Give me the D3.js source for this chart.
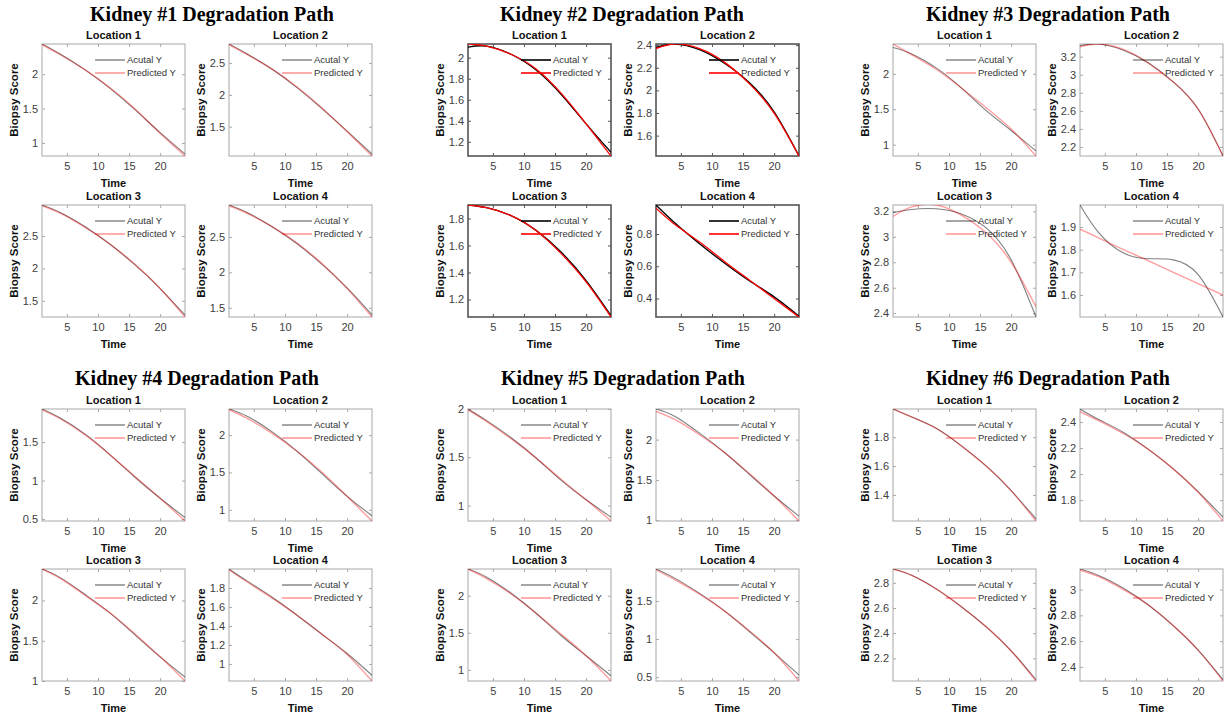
<!DOCTYPE html>
<html>
<head>
<meta charset="utf-8">
<script src="https://cdn.jsdelivr.net/npm/d3@7"></script>
<style>
  body { margin: 0; background: #fff; }
  svg { display: block; }
</style>
</head>
<body>
<svg id="chart" width="1224" height="717"></svg>
<script>
// ---- data ----
const times = [1, 4, 8, 12, 16, 20, 24]
const kidneyNames = ["Kidney #1 Degradation Path", "Kidney #2 Degradation Path", "Kidney #3 Degradation Path",
                     "Kidney #4 Degradation Path", "Kidney #5 Degradation Path", "Kidney #6 Degradation Path"]
const locationNames = ["Location 1", "Location 2", "Location 3", "Location 4"]
const legendLabels = ["Acutal Y", "Predicted Y"]
const xTicks = [5, 10, 15, 20]

// one row per location, values at `times`
const actualK1 = [
  [2.44, 2.29, 2.06, 1.79, 1.48, 1.15, 0.84],
  [2.80, 2.64, 2.40, 2.11, 1.78, 1.43, 1.07],
  [2.98, 2.86, 2.64, 2.37, 2.05, 1.69, 1.28],
  [2.95, 2.84, 2.64, 2.40, 2.11, 1.78, 1.40]
]
const predictedK1 = [
  [2.43, 2.28, 2.06, 1.80, 1.49, 1.14, 0.81],
  [2.79, 2.63, 2.40, 2.12, 1.79, 1.42, 1.04],
  [2.97, 2.85, 2.63, 2.37, 2.06, 1.69, 1.25],
  [2.94, 2.83, 2.64, 2.41, 2.12, 1.77, 1.37]
]
const actualK2 = [
  [2.10, 2.11, 2.03, 1.88, 1.65, 1.37, 1.10],
  [2.38, 2.41, 2.36, 2.24, 2.07, 1.81, 1.42],
  [1.90, 1.88, 1.82, 1.71, 1.55, 1.34, 1.08],
  [0.98, 0.87, 0.74, 0.62, 0.51, 0.41, 0.29]
]
const predictedK2 = [
  [2.13, 2.11, 2.03, 1.89, 1.66, 1.37, 1.065],
  [2.37, 2.41, 2.37, 2.25, 2.06, 1.80, 1.42],
  [1.90, 1.88, 1.82, 1.71, 1.54, 1.33, 1.07],
  [0.96, 0.86, 0.75, 0.63, 0.515, 0.40, 0.285]
]
const actualK3 = [
  [2.37, 2.28, 2.08, 1.80, 1.48, 1.20, 0.91],
  [3.32, 3.34, 3.27, 3.13, 2.92, 2.62, 2.10],
  [3.19, 3.215, 3.22, 3.18, 3.07, 2.82, 2.37],
  [1.997, 1.875, 1.785, 1.76, 1.755, 1.69, 1.503]
]
const predictedK3 = [
  [2.42, 2.27, 2.06, 1.80, 1.52, 1.22, 0.84],
  [3.31, 3.34, 3.28, 3.13, 2.92, 2.62, 2.10],
  [3.16, 3.235, 3.25, 3.17, 3.03, 2.80, 2.45],
  [1.89, 1.852, 1.80, 1.751, 1.70, 1.65, 1.60]
]
const actualK4 = [
  [1.93, 1.81, 1.60, 1.33, 1.04, 0.77, 0.52],
  [2.35, 2.25, 2.04, 1.78, 1.48, 1.18, 0.92],
  [2.39, 2.28, 2.07, 1.84, 1.57, 1.30, 1.05],
  [2.00, 1.87, 1.70, 1.51, 1.31, 1.11, 0.88]
]
const predictedK4 = [
  [1.92, 1.80, 1.59, 1.33, 1.05, 0.77, 0.475],
  [2.34, 2.22, 2.02, 1.78, 1.50, 1.18, 0.85],
  [2.39, 2.27, 2.06, 1.84, 1.58, 1.30, 1.00],
  [1.99, 1.86, 1.69, 1.51, 1.31, 1.10, 0.82]
]
const actualK5 = [
  [2.00, 1.88, 1.70, 1.49, 1.26, 1.06, 0.88],
  [2.38, 2.29, 2.08, 1.84, 1.57, 1.30, 1.05],
  [2.36, 2.25, 2.03, 1.76, 1.46, 1.19, 0.92],
  [1.92, 1.80, 1.60, 1.37, 1.10, 0.82, 0.53]
]
const predictedK5 = [
  [1.99, 1.87, 1.69, 1.49, 1.27, 1.06, 0.84],
  [2.35, 2.25, 2.06, 1.84, 1.58, 1.30, 0.99],
  [2.36, 2.23, 2.02, 1.76, 1.48, 1.19, 0.85],
  [1.91, 1.78, 1.59, 1.37, 1.11, 0.82, 0.45]
]
const actualK6 = [
  [1.995, 1.94, 1.86, 1.74, 1.60, 1.43, 1.235],
  [2.50, 2.42, 2.32, 2.19, 2.04, 1.865, 1.67],
  [2.91, 2.86, 2.75, 2.61, 2.45, 2.26, 2.03],
  [3.16, 3.11, 3.01, 2.88, 2.72, 2.53, 2.30]
]
const predictedK6 = [
  [1.995, 1.94, 1.86, 1.74, 1.60, 1.43, 1.22],
  [2.48, 2.41, 2.31, 2.19, 2.04, 1.86, 1.64],
  [2.91, 2.86, 2.75, 2.61, 2.45, 2.26, 2.02],
  [3.15, 3.10, 3.00, 2.88, 2.72, 2.53, 2.29]
]

// y tick labels per location
const yTicksK1 = [[1, 1.5, 2], [1.5, 2, 2.5], [1.5, 2, 2.5], [1.5, 2, 2.5]]
const yTicksK2 = [[1.2, 1.4, 1.6, 1.8, 2], [1.6, 1.8, 2, 2.2, 2.4], [1.2, 1.4, 1.6, 1.8], [0.4, 0.6, 0.8]]
const yTicksK3 = [[1, 1.5, 2], [2.2, 2.4, 2.6, 2.8, 3, 3.2], [2.4, 2.6, 2.8, 3, 3.2], [1.6, 1.7, 1.8, 1.9]]
const yTicksK4 = [[0.5, 1, 1.5], [1, 1.5, 2], [1, 1.5, 2], [1, 1.2, 1.4, 1.6, 1.8]]
const yTicksK5 = [[1, 1.5, 2], [1, 1.5, 2], [1, 1.5, 2], [0.5, 1, 1.5]]
const yTicksK6 = [[1.4, 1.6, 1.8], [1.8, 2, 2.2, 2.4], [2.2, 2.4, 2.6, 2.8], [2.4, 2.6, 2.8, 3]]

const actualAll = [actualK1, actualK2, actualK3, actualK4, actualK5, actualK6]
const predictedAll = [predictedK1, predictedK2, predictedK3, predictedK4, predictedK5, predictedK6]
const yTicksAll = [yTicksK1, yTicksK2, yTicksK3, yTicksK4, yTicksK5, yTicksK6]

// ---- layout ----
const W = 143, H = 112
const colX = [[42, 229], [468, 656], [893, 1080]]
const rowY = [[44, 205], [409, 569]]
const titleX = [212, 622, 1048, 197, 623, 1048]
const titleY = [21, 385]

const svg = d3.select("#chart")
const sans = "Arial, 'Liberation Sans', sans-serif"

// plain style for most kidneys, kidney #2 was drawn with heavier lines
const lightStyle = {
  box: "#a8a8a8", boxW: 1,
  act: { stroke: "#000", op: 0.5, w: 1.1 },
  pred: { stroke: "#ff0000", op: 0.38, w: 1.4 }
}
const darkStyle = {
  box: "#555", boxW: 1.6,
  act: { stroke: "#000", op: 1, w: 1.3 },
  pred: { stroke: "#ff0000", op: 1, w: 1.3 }
}

kidneyNames.forEach((name, k) => {
  const col = k % 3, half = Math.floor(k / 3)
  svg.append("text")
    .attr("x", titleX[k]).attr("y", titleY[half])
    .attr("text-anchor", "middle")
    .style("font-family", "'Times New Roman', 'Liberation Serif', serif")
    .style("font-weight", "bold").style("font-size", "20px")
    .text(name)

  locationNames.forEach((loc, l) => {
    const x0 = colX[col][l % 2]
    const y0 = rowY[half][Math.floor(l / 2)]
    drawPanel(x0, y0, actualAll[k][l], predictedAll[k][l], yTicksAll[k][l], loc, k == 1 ? darkStyle : lightStyle, "k" + k + "l" + l)
  })
})

function drawPanel(x0, y0, act, pred, yTicks, loc, st, id) {
  const g = svg.append("g")
  const x = d3.scaleLinear().domain([1, 24]).range([x0, x0 + W])
  const y = d3.scaleLinear().domain(d3.extent(act.concat(pred))).range([y0 + H, y0])

  g.append("clipPath").attr("id", "clip-" + id)
    .append("rect").attr("x", x0).attr("y", y0).attr("width", W).attr("height", H)

  // axes (inward ticks, mirrored on top/right)
  g.append("g").attr("transform", `translate(0,${y0 + H})`)
    .call(d3.axisBottom(x).tickValues(xTicks).tickSizeInner(-3).tickSizeOuter(0).tickPadding(6))
  g.append("g").attr("transform", `translate(${x0},0)`)
    .call(d3.axisLeft(y).tickValues(yTicks).tickFormat(d => d).tickSizeInner(-3).tickSizeOuter(0).tickPadding(4))
  g.append("g").attr("transform", `translate(0,${y0})`)
    .call(d3.axisTop(x).tickValues(xTicks).tickSizeInner(-3).tickSizeOuter(0).tickFormat(""))
  g.append("g").attr("transform", `translate(${x0 + W},0)`)
    .call(d3.axisRight(y).tickValues(yTicks).tickSizeInner(-3).tickSizeOuter(0).tickFormat(""))
  g.selectAll(".domain").remove()
  g.selectAll(".tick line").attr("stroke", st.box)
  g.selectAll(".tick text").attr("fill", "#404040")
    .style("font-family", sans).style("font-size", "11px")

  g.append("rect").attr("x", x0).attr("y", y0).attr("width", W).attr("height", H)
    .attr("fill", "none").attr("stroke", st.box).attr("stroke-width", st.boxW)

  // curves
  const line = d3.line().x((d, i) => x(times[i])).y(d => y(d)).curve(d3.curveNatural)
  const plot = g.append("g").attr("clip-path", `url(#clip-${id})`)
  plot.append("path").attr("d", line(act)).attr("fill", "none")
    .attr("stroke", st.act.stroke).attr("stroke-opacity", st.act.op).attr("stroke-width", st.act.w)
  plot.append("path").attr("d", line(pred)).attr("fill", "none")
    .attr("stroke", st.pred.stroke).attr("stroke-opacity", st.pred.op).attr("stroke-width", st.pred.w)

  // legend
  const lg = g.append("g").attr("transform", `translate(${x0 + 53},${y0 + 16})`)
  ;[st.act, st.pred].forEach((s, i) => {
    lg.append("line").attr("x1", 0).attr("x2", 30).attr("y1", i * 13).attr("y2", i * 13)
      .attr("stroke", s.stroke).attr("stroke-opacity", s.op).attr("stroke-width", s.w + 0.3)
    lg.append("text").attr("x", 32).attr("y", i * 13 + 3.4)
      .attr("fill", "#333").style("font-family", sans).style("font-size", "9.5px")
      .text(legendLabels[i])
  })

  // titles and labels
  g.append("text").attr("x", x0 + W / 2).attr("y", y0 - 5).attr("text-anchor", "middle")
    .style("font-family", sans).style("font-weight", "bold").style("font-size", "11px")
    .attr("fill", "#111").text(loc)
  g.append("text").attr("x", x0 + W / 2).attr("y", y0 + H + 31).attr("text-anchor", "middle")
    .style("font-family", sans).style("font-weight", "bold").style("font-size", "11px")
    .attr("fill", "#111").text("Time")
  g.append("text")
    .attr("transform", `translate(${x0 - 24},${y0 + H / 2}) rotate(-90)`)
    .attr("text-anchor", "middle")
    .style("font-family", sans).style("font-weight", "bold").style("font-size", "11.5px")
    .attr("fill", "#111").text("Biopsy Score")
}
</script>
</body>
</html>
